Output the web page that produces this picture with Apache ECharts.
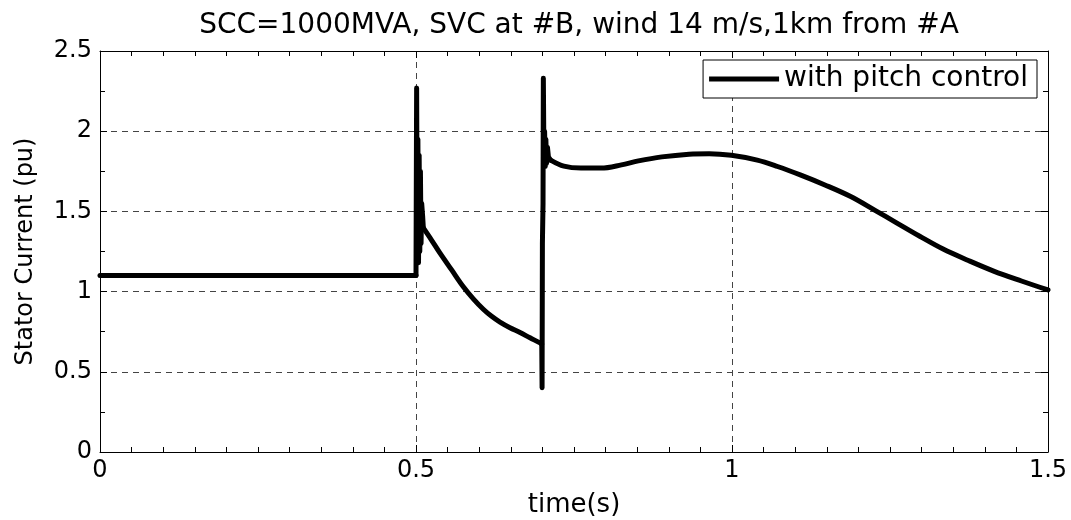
<!DOCTYPE html>
<html>
<head>
<meta charset="utf-8">
<script src="https://cdn.jsdelivr.net/npm/echarts@6/dist/echarts.min.js"></script>
<style>html,body{margin:0;padding:0;background:#fff;}#c{width:1071px;height:520px;}</style>
</head>
<body>
<div id="c"></div>
<script>
const titleText = "SCC=1000MVA, SVC at #B, wind 14 m/s,1km from #A";
const xName = "time(s)";
const yName = "Stator Current (pu)";
const seriesName = "with pitch control";
const xTicks = [0, 0.5, 1, 1.5];
const yTicks = [0, 0.5, 1, 1.5, 2, 2.5];

// steady state, then fault transient at 0.5 s
const timeS = [
  0, 0.5,
  0.5010, 0.5020, 0.5030, 0.5040, 0.5050, 0.5060, 0.5070, 0.5080, 0.5090, 0.5105, 0.5116,
  0.5248, 0.5380, 0.5564, 0.5749, 0.5907, 0.6065, 0.6197, 0.6329, 0.6487, 0.6646, 0.6804, 0.6962, 0.6990,
  0.6995, 0.7000, 0.7010, 0.7015, 0.7025, 0.7035, 0.7045, 0.7055, 0.7065, 0.7080, 0.7095, 0.7130,
  0.734, 0.761, 0.793, 0.825, 0.852, 0.889, 0.932, 0.964, 0.999,
  1.040, 1.072, 1.109, 1.147, 1.187, 1.227, 1.259, 1.297, 1.334, 1.374, 1.414, 1.458, 1.500
];
const statorCurrent = [
  1.10, 1.10,
  2.27, 1.20, 1.95, 1.18, 1.85, 1.25, 1.75, 1.30, 1.55, 1.47, 1.397,
  1.320, 1.240, 1.135, 1.030, 0.955, 0.890, 0.846, 0.810, 0.775, 0.745, 0.712, 0.680, 0.672,
  0.40, 1.30, 1.55, 2.33, 1.80, 2.00, 1.78, 1.95, 1.80, 1.90, 1.84, 1.82,
  1.782, 1.770, 1.770, 1.790, 1.815, 1.840, 1.857, 1.860, 1.850,
  1.820, 1.780, 1.726, 1.665, 1.594, 1.505, 1.432, 1.345, 1.265, 1.194, 1.128, 1.066, 1.010
];
// index ranges [start, end] of pieces drawn as one trace; smooth pieces are the slow parts
const pieces = [
  {from: 0, to: 1, smooth: false},
  {from: 1, to: 12, smooth: false},
  {from: 12, to: 25, smooth: 0.35},
  {from: 25, to: 37, smooth: false},
  {from: 37, to: 61, smooth: 0.35}
];

const points = timeS.map((t, i) => [t, statorCurrent[i]]);
const FONT = "DejaVu Sans";
const chart = echarts.init(document.getElementById('c'), null, {renderer: 'canvas'});

const gridLine = {show: true, lineStyle: {color: '#444', width: 1, type: [6, 5]}};
const boxLine = {show: true, onZero: false, lineStyle: {color: '#000', width: 1}};
const majorTick = {show: true, inside: true, length: 7, lineStyle: {color: '#000'}};

const series = pieces.map(p => ({
  name: seriesName, type: 'line', xAxisIndex: 0, yAxisIndex: 0,
  data: points.slice(p.from, p.to + 1), showSymbol: false, symbol: 'none', smooth: p.smooth,
  color: '#000',
  lineStyle: {color: '#000', width: 5, cap: 'round', join: 'round'},
  itemStyle: {color: '#000'}
}));

chart.setOption({
  animation: false,
  backgroundColor: '#fff',
  title: {
    text: titleText, left: 574, top: 7, textAlign: 'center',
    textStyle: {fontFamily: FONT, fontSize: 28, fontWeight: 'normal', color: '#000'}
  },
  legend: {
    data: [seriesName], right: 34, top: 60,
    backgroundColor: '#fff', borderColor: '#000', borderWidth: 1, borderRadius: 0,
    padding: [5, 9, 5, 6],
    icon: 'rect', itemWidth: 70, itemHeight: 5, itemGap: 6,
    textStyle: {fontFamily: FONT, fontSize: 28, color: '#000', lineHeight: 28}
  },
  grid: {left: 100, right: 23, top: 51, bottom: 68, containLabel: false, outerBoundsMode: 'none'},
  xAxis: [{
    type: 'value', min: xTicks[0], max: xTicks[xTicks.length - 1], interval: 0.5,
    position: 'bottom',
    name: xName, nameLocation: 'middle', nameGap: 40,
    nameTextStyle: {fontFamily: FONT, fontSize: 26, color: '#000'},
    axisLine: boxLine, axisTick: majorTick,
    minorTick: {show: true, splitNumber: 10, length: 5, lineStyle: {color: '#000', width: 1}},
    axisLabel: {fontFamily: FONT, fontSize: 24, color: '#000', margin: 7,
      formatter: v => String(v)},
    splitLine: gridLine
  }, {
    type: 'value', min: xTicks[0], max: xTicks[xTicks.length - 1], interval: 0.5,
    position: 'top',
    axisLine: boxLine, axisTick: majorTick,
    minorTick: {show: true, splitNumber: 10, length: 5, lineStyle: {color: '#000', width: 1}},
    axisLabel: {show: false}, splitLine: {show: false}
  }],
  yAxis: [{
    type: 'value', min: yTicks[0], max: yTicks[yTicks.length - 1], interval: 0.5,
    position: 'left',
    name: yName, nameLocation: 'middle', nameGap: 62,
    nameTextStyle: {fontFamily: FONT, fontSize: 24, color: '#000'},
    axisLine: boxLine, axisTick: majorTick,
    minorTick: {show: true, splitNumber: 2, length: 5, lineStyle: {color: '#000', width: 1}},
    axisLabel: {fontFamily: FONT, fontSize: 24, color: '#000', margin: 8,
      formatter: v => String(v)},
    splitLine: gridLine
  }, {
    type: 'value', min: yTicks[0], max: yTicks[yTicks.length - 1], interval: 0.5,
    position: 'right',
    axisLine: boxLine, axisTick: majorTick,
    minorTick: {show: true, splitNumber: 2, length: 5, lineStyle: {color: '#000', width: 1}},
    axisLabel: {show: false}, splitLine: {show: false}
  }],
  series: series
});
</script>
</body>
</html>
